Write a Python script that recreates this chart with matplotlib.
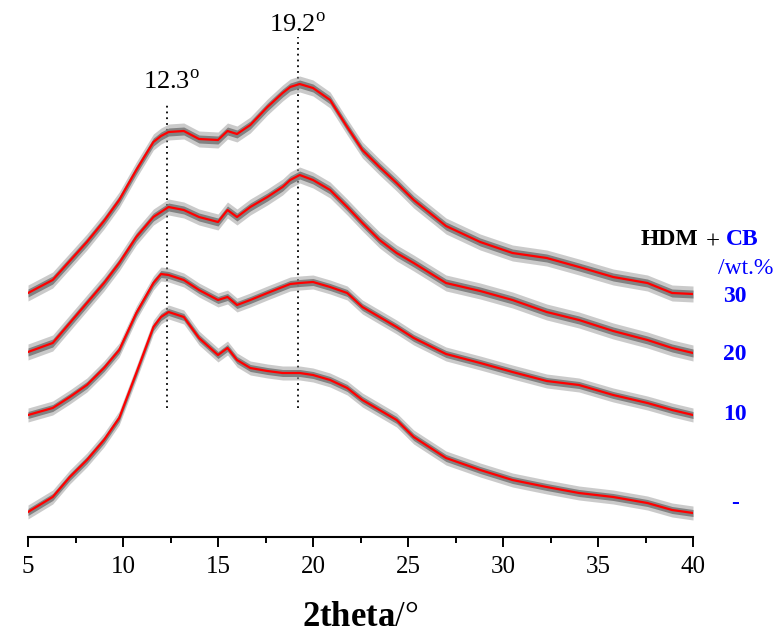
"""XRD patterns of HDM with different CB loadings (stacked)."""

import numpy as np
import matplotlib
matplotlib.use("Agg")
import matplotlib.pyplot as plt
from matplotlib.ticker import MultipleLocator

plt.rcParams["font.family"] = ["Liberation Serif", "DejaVu Serif"]
plt.rcParams["mathtext.fontset"] = "custom"
plt.rcParams["mathtext.rm"] = "Liberation Serif"
plt.rcParams["mathtext.bf"] = "Liberation Serif:bold"

# 2theta grid (deg) at which the smoothed patterns were read
two_theta = [5, 6.3, 7.2, 8.1, 9.0, 9.8, 10.7, 11.6, 12.0, 12.4, 13.2, 14.0,
             15.0, 15.5, 16.0, 16.7, 17.6, 18.4, 18.8, 19.3, 20.0, 20.9,
             21.8, 22.6, 23.5, 24.4, 25.3, 27.0, 28.8, 30.5, 32.3, 34.0,
             35.8, 37.6, 38.9, 40.0]

# stacked intensities (a.u., offset already included)
I_30 = [244, 257, 276, 295, 316, 337, 367, 395, 401, 405, 406, 398,
        397, 406, 403, 412, 430, 444, 450, 453, 449, 437, 410, 387,
        370, 354, 337, 311, 295, 284, 279, 270, 260, 254, 244, 243]
I_20 = [185, 194, 214, 234, 254, 274, 300, 320, 325, 330, 327, 320,
        315, 327, 320, 330, 340, 350, 357, 362, 357, 347, 330, 314,
        297, 284, 274, 254, 246, 237, 225, 217, 206, 197, 189, 184]
I_10 = [122, 129, 140, 152, 169, 187, 224, 254, 263, 262, 257, 247,
        237, 240, 232, 237, 244, 250, 253, 254, 255, 250, 244, 230,
        220, 210, 199, 183, 174, 165, 156, 152, 142, 134, 127, 122]
I_0 = [25, 40, 60, 77, 97, 119, 164, 210, 220, 225, 220, 199,
       182, 189, 177, 169, 166, 164, 164, 164, 162, 157, 149, 137,
       127, 117, 100, 79, 67, 57, 50, 44, 40, 34, 27, 24]

# half-width of the raw-data scatter around each smoothed curve (a.u.)
noise = [8, 8, 7, 7]
labels = ["30", "20", "10", "-"]
label_y = [297, 355, 414, 503]   # pixel rows of the right-hand labels

peaks = [12.3, 19.2]
peak_top = [435, 500]
peak_bottom = 129

W, H = 777, 634
fig = plt.figure(figsize=(W / 100, H / 100), dpi=100)
ax = fig.add_axes([28 / W, 97 / H, 665 / W, 510 / H])

x = np.array(two_theta)
for ys, nz in zip([I_30, I_20, I_10, I_0], noise):
    ys = np.array(ys, dtype=float)
    # raw scatter: faint outer band, denser inner band
    ax.fill_between(x, ys - nz, ys + nz, color="#a0a0a0", alpha=0.55,
                    lw=0, zorder=2)
    ax.fill_between(x, ys - nz / 2, ys + nz / 2, color="#7a7a7a",
                    alpha=0.9, lw=0, zorder=2)
    ax.plot(x, ys, color="#ff0000", lw=1.6, zorder=3)

for p, top in zip(peaks, peak_top):
    ax.plot([p, p], [peak_bottom, top], color="black", ls=(0, (1, 2.2)),
            lw=1.3, zorder=1)
ax.text(12.58, 455, r"12.3$^\mathregular{o}$", ha="center", va="center",
        fontsize=19)
ax.text(19.2, 512, r"19.2$^\mathregular{o}$", ha="center", va="center",
        fontsize=19, clip_on=False)

ax.set_xlim(5, 40)
ax.set_ylim(0, 510)
ax.xaxis.set_major_locator(MultipleLocator(5))
ax.xaxis.set_minor_locator(MultipleLocator(2.5))
ax.tick_params(axis="x", which="major", length=7, width=1.4, labelsize=18,
               pad=7)
ax.tick_params(axis="x", which="minor", length=4, width=1.4)
ax.set_yticks([])
for s in ["left", "right", "top"]:
    ax.spines[s].set_visible(False)
ax.spines["bottom"].set_linewidth(1.5)
ax.set_facecolor("none")

fig.text(360 / W, 1 - 617 / H, r"$\mathbf{2theta}$/°", ha="center",
         va="center", fontsize=25)

# right-hand legend text
base = 1 - 245 / H
fig.text(698 / W, base, "HDM", ha="right", va="baseline",
         fontsize=17, fontweight="bold", color="black")
fig.text(713 / W, 1 - 249 / H, "+", ha="center", va="baseline",
         fontsize=18, color="black")
fig.text(726 / W, base, "CB", ha="left", va="baseline",
         fontsize=17, fontweight="bold", color="#0000ff")
fig.text(746 / W, 1 - 268 / H, "/wt.%", ha="center", va="center",
         fontsize=17, color="#0000ff")
for lab, yy in zip(labels, label_y):
    fig.text(735 / W, 1 - yy / H, lab, ha="center", va="center",
             fontsize=17, fontweight="bold", color="#0000ff")

fig.savefig("out.png", dpi=100)
